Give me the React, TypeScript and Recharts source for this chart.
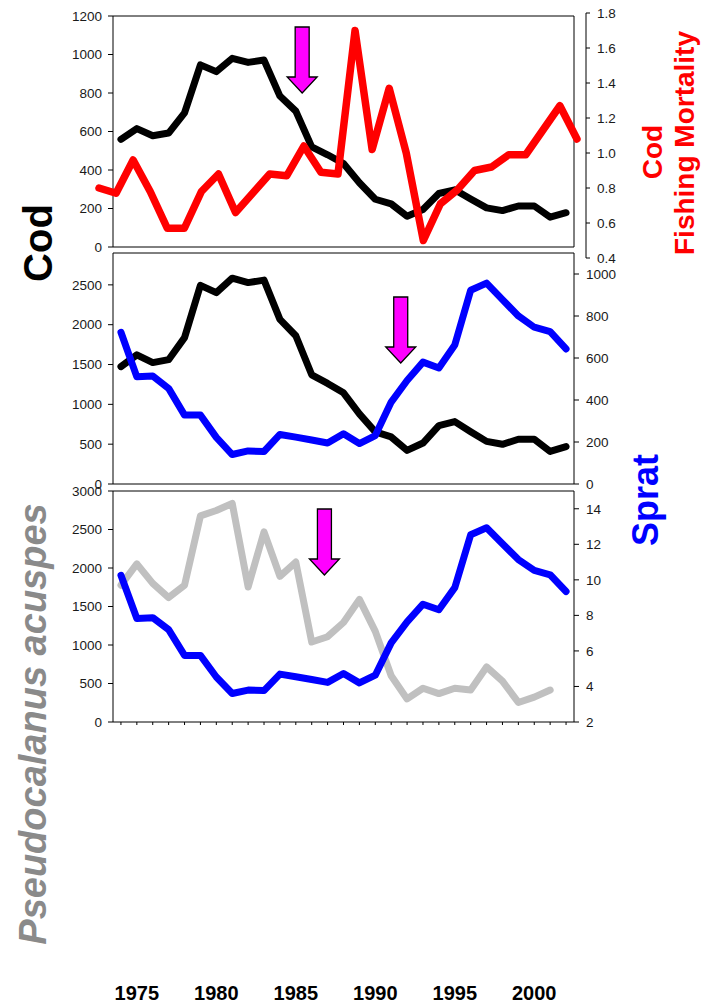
import { LineChart, Line, XAxis, YAxis, ReferenceDot } from "recharts";

// Baltic time series, 1974-2002
const years = [
  1974, 1975, 1976, 1977, 1978, 1979, 1980, 1981, 1982, 1983, 1984, 1985, 1986, 1987, 1988,
  1989, 1990, 1991, 1992, 1993, 1994, 1995, 1996, 1997, 1998, 1999, 2000, 2001, 2002,
];
const codBiomass = [
  559, 615, 578, 592, 697, 946, 911, 980, 959, 971, 784, 706, 520, 479, 434,
  334, 248, 224, 160, 195, 278, 297, 249, 203, 189, 213, 213, 155, 178,
];
const codFishingMortality = [
  0.8, 0.77, 0.96, 0.78, 0.57, 0.57, 0.78, 0.88, 0.66, 0.77, 0.88, 0.87, 1.04, 0.89, 0.88,
  1.7, 1.02, 1.37, 1.0, 0.5, 0.71, 0.79, 0.9, 0.92, 0.99, 0.99, 1.13, 1.27, 1.08,
];
const spratBiomass = [
  1905, 1345, 1355, 1200, 865, 865, 585, 370, 415, 408, 622, 588, 552, 514, 630,
  508, 608, 1028, 1300, 1530, 1457, 1745, 2432, 2522, 2314, 2110, 1968, 1912, 1695,
];
const pseudocalanus = [
  9.7, 10.9, 9.8, 9.0, 9.7, 13.6, 13.9, 14.3, 9.6, 12.7, 10.2, 11.0, 6.5, 6.8, 7.6,
  8.9, 7.1, 4.6, 3.3, 3.9, 3.6, 3.9, 3.8, 5.1, 4.3, 3.1, 3.4, 3.8, null,
];

const labelYears = [1975, 1980, 1985, 1990, 1995, 2000];
const codTicks = [0, 200, 400, 600, 800, 1000, 1200];
const mortalityTicks = [0.4, 0.6, 0.8, 1.0, 1.2, 1.4, 1.6, 1.8];
const spratTicks = [0, 500, 1000, 1500, 2000, 2500];
const codRightTicks = [0, 200, 400, 600, 800, 1000];
const spratTicksBottom = [0, 500, 1000, 1500, 2000, 2500, 3000];
const pseudoTicks = [2, 4, 6, 8, 10, 12, 14];

// regime shift markers: [year, value on the panel's left axis]
const codShift = [1985.4, 800];
const spratShift = [1991.6, 1519];
const pseudoShift = [1986.8, 1909];

const rows = years.map((year, i) => ({
  year,
  cod: codBiomass[i],
  f: codFishingMortality[i],
  sprat: spratBiomass[i],
  pseudo: pseudocalanus[i],
}));

const FONT = '"Liberation Sans", Arial, Helvetica, sans-serif';
const yearDomain: [number, number] = [1973.5, 2002.5];
const line = { stroke: "#000", strokeWidth: 1 };
const tickText = { fontSize: 13.5, fill: "#1a1a1a" };

const DownArrow = (props: any) => {
  const { cx, cy } = props;
  const shape = [
    [0, 0], [-15, -16], [-7, -16], [-7, -66], [7, -66], [7, -16], [15, -16],
  ];
  const points = shape.map(([dx, dy]) => `${cx + dx},${cy + dy}`).join(" ");
  return <polygon points={points} fill="#ff00ff" stroke="#000" strokeWidth={1.3} />;
};

// year labels sit well below the lowest panel, only every fifth year
const YearTick = (props: any) => {
  const { x, y, payload } = props;
  if (!labelYears.includes(payload.value)) return <g />;
  return (
    <text x={x} y={y + 273} textAnchor="middle" fontSize={20} fontWeight="bold" fill="#000">
      {payload.value}
    </text>
  );
};

const seriesProps = {
  type: "linear" as const,
  dot: false,
  activeDot: false,
  strokeWidth: 7,
  strokeLinejoin: "round" as const,
  strokeLinecap: "round" as const,
  isAnimationActive: false,
};

const abs = (top: number) => ({ position: "absolute" as const, left: 0, top });

export default function App() {
  return (
    <div style={{ position: "absolute", left: 0, top: 0, width: 705, height: 1005, background: "#fff", fontFamily: FONT }}>
      {/* cod biomass */}
      <div style={abs(0)}>
        <LineChart width={705} height={262} data={rows} margin={{ top: 15, right: 130, bottom: 0, left: 0 }}>
          <XAxis xAxisId="yr" dataKey="year" type="number" domain={yearDomain} ticks={years} interval={0} tick={false} tickSize={3} height={15} axisLine={line} tickLine={line} />
          <XAxis xAxisId="frame" orientation="top" type="number" domain={yearDomain} allowDataOverflow ticks={[1974]} tick={false} tickLine={false} height={1} axisLine={line} />
          <YAxis yAxisId="cod" domain={[0, 1200]} ticks={codTicks} width={113} tickSize={5} tickMargin={6} tick={tickText} axisLine={line} tickLine={line} />
          <YAxis yAxisId="frame" orientation="right" type="number" domain={[0, 1]} allowDataOverflow ticks={[0, 1]} tick={false} tickLine={false} width={1} axisLine={line} />
          <Line xAxisId="yr" yAxisId="cod" dataKey="cod" stroke="#000" {...seriesProps} />
          <ReferenceDot xAxisId="yr" yAxisId="cod" x={codShift[0]} y={codShift[1]} shape={DownArrow} />
        </LineChart>
      </div>

      {/* cod fishing mortality */}
      <div style={abs(0)}>
        <LineChart width={705} height={270} data={rows} margin={{ top: 13, right: 0, bottom: 12, left: 99 }}>
          <XAxis dataKey="year" type="number" domain={[1974, 2002.53]} hide />
          <YAxis orientation="right" domain={[0.4, 1.8]} ticks={mortalityTicks} interval={0} width={119} tickSize={4} tickMargin={7} tick={tickText} axisLine={line} tickLine={line} tickFormatter={(v: number) => v.toFixed(1)} />
          <Line dataKey="f" stroke="#ff0000" {...seriesProps} strokeWidth={7.5} />
        </LineChart>
      </div>

      {/* sprat and cod */}
      <div style={abs(240)}>
        <LineChart width={705} height={260} data={rows} margin={{ top: 12, right: 0, bottom: 0, left: 0 }}>
          <XAxis xAxisId="yr" dataKey="year" type="number" domain={yearDomain} ticks={years} interval={0} tick={false} tickSize={3} height={16} axisLine={line} tickLine={line} />
          <XAxis xAxisId="frame" orientation="top" type="number" domain={yearDomain} allowDataOverflow ticks={[1974]} tick={false} tickLine={false} height={1} axisLine={line} />
          <YAxis yAxisId="sprat" domain={[0, 2900]} ticks={spratTicks} width={113} tickSize={5} tickMargin={6} tick={tickText} axisLine={line} tickLine={line} />
          <YAxis yAxisId="cod" orientation="right" domain={[0, 1100]} ticks={codRightTicks} width={131} tickSize={5} tickMargin={7} tick={tickText} axisLine={line} tickLine={line} />
          <Line xAxisId="yr" yAxisId="cod" dataKey="cod" stroke="#000" {...seriesProps} />
          <Line xAxisId="yr" yAxisId="sprat" dataKey="sprat" stroke="#0000ff" {...seriesProps} />
          <ReferenceDot xAxisId="yr" yAxisId="sprat" x={spratShift[0]} y={spratShift[1]} shape={DownArrow} />
        </LineChart>
      </div>

      {/* sprat and Pseudocalanus */}
      <div style={abs(480)}>
        <LineChart width={705} height={525} data={rows} margin={{ top: 10, right: 0, bottom: 0, left: 0 }}>
          <XAxis xAxisId="yr" dataKey="year" type="number" domain={yearDomain} ticks={years} interval={0} tick={YearTick} tickSize={3} tickMargin={2} height={283} axisLine={line} tickLine={line} />
          <XAxis xAxisId="frame" orientation="top" type="number" domain={yearDomain} allowDataOverflow ticks={[1974]} tick={false} tickLine={false} height={1} axisLine={line} />
          <YAxis yAxisId="sprat" domain={[0, 3000]} ticks={spratTicksBottom} width={113} tickSize={5} tickMargin={6} tick={tickText} axisLine={line} tickLine={line} />
          <YAxis yAxisId="pseudo" orientation="right" domain={[2, 15]} ticks={pseudoTicks} width={131} tickSize={5} tickMargin={7} tick={tickText} axisLine={line} tickLine={line} />
          <Line xAxisId="yr" yAxisId="pseudo" dataKey="pseudo" stroke="#c0c0c0" {...seriesProps} />
          <Line xAxisId="yr" yAxisId="sprat" dataKey="sprat" stroke="#0000ff" {...seriesProps} />
          <ReferenceDot xAxisId="yr" yAxisId="sprat" x={pseudoShift[0]} y={pseudoShift[1]} shape={DownArrow} />
        </LineChart>
      </div>

      {/* panel titles */}
      <svg width={705} height={1005} style={{ position: "absolute", left: 0, top: 0, pointerEvents: "none" }}>
        <g fontWeight="bold" textAnchor="middle">
          <text transform="translate(52,243) rotate(-90)" fontSize={40} fill="#000">Cod</text>
          <text transform="translate(662,152) rotate(-90)" fontSize={28} fill="#ff0000">Cod</text>
          <text transform="translate(694,143) rotate(-90)" fontSize={28} fill="#ff0000">Fishing Mortality</text>
          <text transform="translate(658,500) rotate(-90)" fontSize={36} fill="#0000ff">Sprat</text>
          <text transform="translate(46,724) rotate(-90)" fontSize={38} fontStyle="italic" fill="#8a8a8a">Pseudocalanus acuspes</text>
        </g>
      </svg>
    </div>
  );
}
